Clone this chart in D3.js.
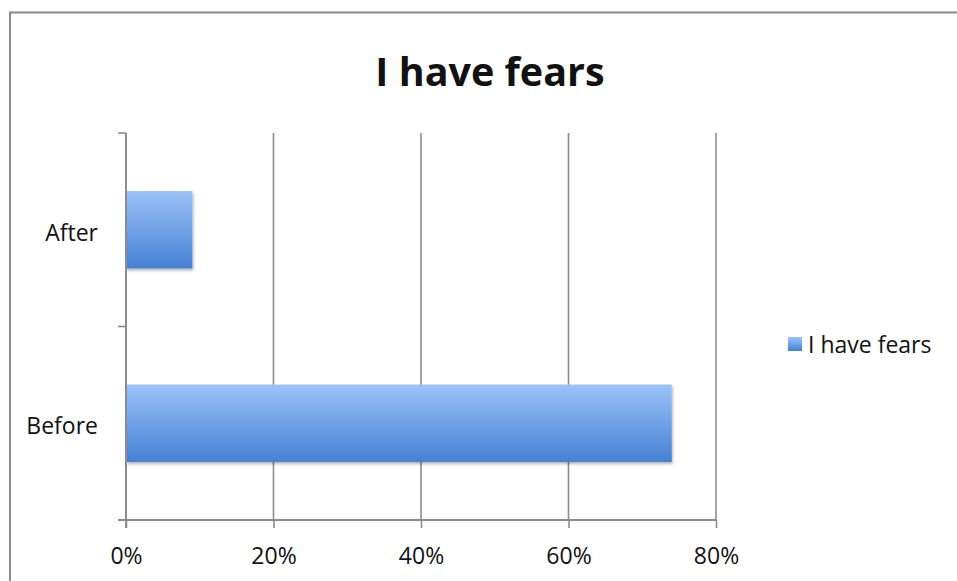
<!DOCTYPE html>
<html><head><meta charset="utf-8">
<script src="https://cdn.jsdelivr.net/npm/d3@7"></script>
<style>body{margin:0;background:#fff}svg{display:block}text{font-family:"Open Sans",sans-serif;fill:#111}</style>
</head><body>
<script>
const categories = ["After", "Before"];
const values = [9, 74];
const xTicks = [0, 20, 40, 60, 80];
const seriesName = "I have fears";
const title = "I have fears";

const W = 957, H = 581;
const svg = d3.select("body").append("svg").attr("width", W).attr("height", H);
const defs = svg.append("defs");
const grad = defs.append("linearGradient").attr("id", "g").attr("x1", 0).attr("y1", 0).attr("x2", 0).attr("y2", 1);
grad.append("stop").attr("offset", "0%").attr("stop-color", "#9cc3fa");
grad.append("stop").attr("offset", "100%").attr("stop-color", "#4580d3");
const f = defs.append("filter").attr("id", "sh").attr("x", "-10%").attr("y", "-10%").attr("width", "130%").attr("height", "140%");
f.append("feDropShadow").attr("dx", 1).attr("dy", 2).attr("stdDeviation", 1.5).attr("flood-color", "#000").attr("flood-opacity", 0.3);

// chart border
svg.append("rect").attr("x", 10).attr("y", 12.5).attr("width", W + 10).attr("height", H + 10)
  .attr("fill", "none").attr("stroke", "#8a8a8a").attr("stroke-width", 2);

svg.append("text").attr("x", 490).attr("y", 86).attr("text-anchor", "middle")
  .style("font-size", "39.5px").style("font-weight", "bold").text(title);

const x = d3.scaleLinear().domain([0, 80]).range([126, 716]);
const y = d3.scaleBand().domain(categories).range([133, 520]).paddingInner(0.6).paddingOuter(0.3);
const yb = d3.scaleBand().domain(categories).range([133, 520]);

// gridlines
svg.append("g").selectAll("line").data(xTicks.slice(1)).join("line")
  .attr("x1", d => x(d)).attr("x2", d => x(d)).attr("y1", 133).attr("y2", 520)
  .attr("stroke", "#8c8c8c").attr("stroke-width", 1.6);

// bars
svg.append("g").selectAll("rect").data(values).join("rect")
  .attr("x", x(0)).attr("y", (d, i) => y(categories[i]))
  .attr("width", d => x(d) - x(0)).attr("height", y.bandwidth())
  .attr("fill", "url(#g)").attr("filter", "url(#sh)");

// x axis
const xa = svg.append("g").attr("transform", "translate(0,520)")
  .call(d3.axisBottom(x).tickValues(xTicks).tickFormat(d => d + "%").tickSize(8).tickPadding(20));
xa.select(".domain").attr("stroke", "#8c8c8c").attr("stroke-width", 2).attr("d", "M118,0H716");
xa.selectAll(".tick line").attr("stroke", "#8c8c8c").attr("stroke-width", 1.6);
xa.selectAll("text").style("font-size", "23px").style("font-family", "Open Sans").attr("fill", "#111");

// y axis
const ya = svg.append("g").attr("transform", "translate(126,0)");
ya.append("line").attr("x1", 0).attr("x2", 0).attr("y1", 133).attr("y2", 528)
  .attr("stroke", "#8c8c8c").attr("stroke-width", 2);
const edges = [yb.range()[0]].concat(categories.map(c => yb(c) + yb.bandwidth()));
ya.selectAll(".t").data(edges).join("line").attr("class", "t")
  .attr("x1", -8).attr("x2", 0).attr("y1", d => d).attr("y2", d => d)
  .attr("stroke", "#8c8c8c").attr("stroke-width", 1.6);
ya.selectAll("text").data(categories).join("text")
  .attr("x", -28).attr("y", d => y(d) + y.bandwidth() / 2 + 3).attr("dy", "0.35em")
  .attr("text-anchor", "end").style("font-size", "23px").text(d => d);

// legend
const lg = svg.append("g").attr("transform", "translate(788,337)");
lg.append("rect").attr("width", 14).attr("height", 14).attr("fill", "url(#g)");
lg.append("text").attr("x", 20).attr("y", 8).attr("dy", "0.35em").style("font-size", "23px").text(seriesName);
</script>
</body></html>
